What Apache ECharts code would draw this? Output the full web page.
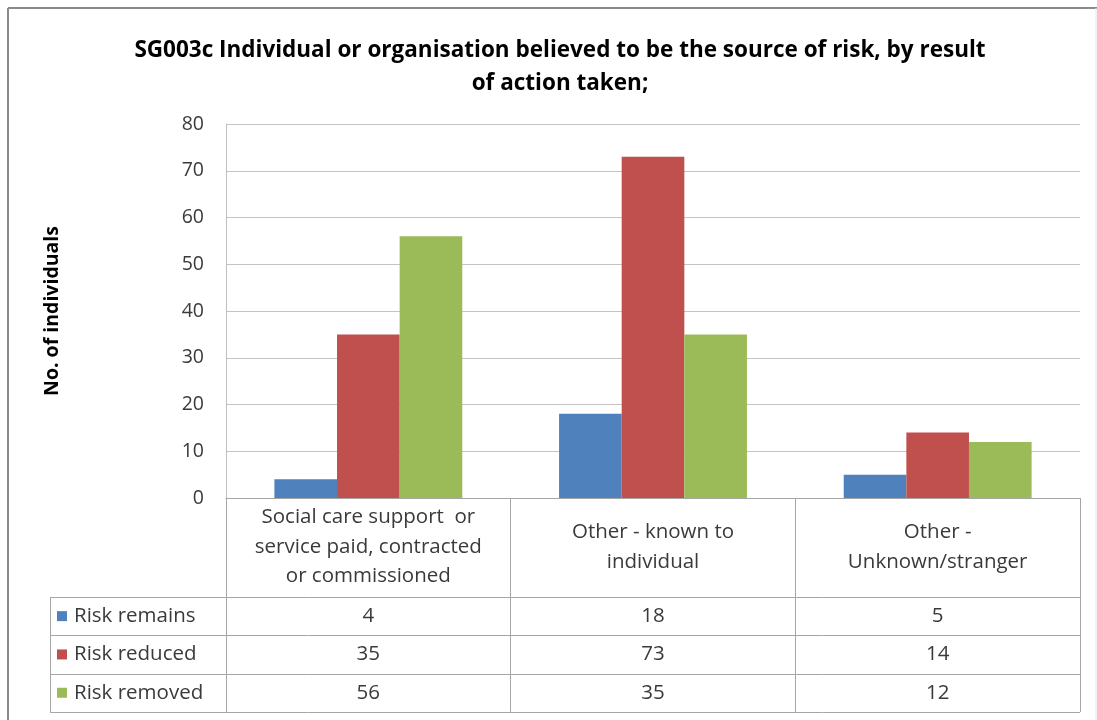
<!DOCTYPE html>
<html><head><meta charset="utf-8">
<script src="https://cdn.jsdelivr.net/npm/echarts@6/dist/echarts.min.js"></script>
<style>html,body{margin:0;padding:0;background:#fff}#c{width:1097px;height:720px}</style>
</head><body><div id="c"></div>
<script>
const titleText = "SG003c Individual or organisation believed to be the source of risk, by result\nof action taken;";
const yAxisName = "No. of individuals";
const categories = ["Social care support  or\nservice paid, contracted\nor commissioned", "Other - known to\nindividual", "Other -\nUnknown/stranger"];
const seriesNames = ["Risk remains", "Risk reduced", "Risk removed"];
const riskRemains = [4, 18, 5];
const riskReduced = [35, 73, 14];
const riskRemoved = [56, 35, 12];
const colors = ["#4F81BD", "#C0504D", "#9BBB59"];
const yTicks = {min: 0, max: 80, interval: 10};

const FONT = "Open Sans";
const TXT = "#3a3a3a";
const chart = echarts.init(document.getElementById('c'), null, {renderer: 'canvas'});
const allSeries = [riskRemains, riskReduced, riskRemoved];

const gridL = 226, gridR = 17, gridT = 124, gridB = 222;
const catRowH = 99, rowH = 38.3, tableLeft = 50;

chart.setOption({
  animation: false,
  backgroundColor: '#fff',
  title: {
    text: titleText, left: 555, top: 29, textAlign: 'center',
    textStyle: {fontFamily: FONT, fontSize: 22.5, fontWeight: 'bold', color: '#000', lineHeight: 33}
  },
  grid: {left: gridL, right: gridR, top: gridT, bottom: gridB},
  xAxis: {
    type: 'category', data: categories,
    axisLine: {lineStyle: {color: '#a6a6a6', width: 1}},
    axisTick: {show: true, length: catRowH + rowH * 3, lineStyle: {color: '#a6a6a6'}},
    axisLabel: {fontFamily: FONT, fontSize: 20.5, color: TXT, lineHeight: 29.5, verticalAlign: 'middle', margin: 49, interval: 0}
  },
  yAxis: {
    type: 'value', min: yTicks.min, max: yTicks.max, interval: yTicks.interval,
    name: yAxisName, nameLocation: 'middle', nameGap: 164, nameRotate: 90,
    nameTextStyle: {fontFamily: FONT, fontSize: 19.5, fontWeight: 'bold', color: '#000'},
    axisLine: {show: true, lineStyle: {color: '#bfbfbf'}},
    axisTick: {show: false},
    axisLabel: {fontFamily: FONT, fontSize: 19.5, color: TXT, margin: 22},
    splitLine: {lineStyle: {color: '#c4c4c4', width: 1}}
  },
  series: allSeries.map((d, i) => ({
    type: 'bar', name: seriesNames[i], data: d,
    itemStyle: {color: colors[i]},
    barGap: '0%', barCategoryGap: '34%'
  }))
});

function drawTable() {
  const y0 = chart.convertToPixel({yAxisIndex: 0}, 0);
  const xRight = 1097 - gridR;
  const topRows = y0 + catRowH;
  const els = [];
  els.push({type: 'line', shape: {x1: 8, y1: 8, x2: 1097, y2: 8}, style: {stroke: '#8a8a8a', lineWidth: 2}, silent: true});
  els.push({type: 'line', shape: {x1: 8, y1: 8, x2: 8, y2: 720}, style: {stroke: '#8a8a8a', lineWidth: 2}, silent: true});
  els.push({type: 'line', shape: {x1: 1096, y1: 8, x2: 1096, y2: 720}, style: {stroke: '#e6e6e6', lineWidth: 1}, silent: true});
  for (let r = 0; r <= 3; r++) {
    const y = Math.round(topRows + rowH * r) + 0.5;
    els.push({type: 'line', shape: {x1: tableLeft, y1: y, x2: xRight, y2: y}, style: {stroke: '#a6a6a6', lineWidth: 1}, silent: true});
  }
  els.push({type: 'line', shape: {x1: tableLeft + 0.5, y1: topRows, x2: tableLeft + 0.5, y2: topRows + rowH * 3}, style: {stroke: '#a6a6a6', lineWidth: 1}, silent: true});
  for (let s = 0; s < seriesNames.length; s++) {
    const cy = topRows + rowH * s + rowH / 2;
    els.push({type: 'rect', shape: {x: 57, y: cy - 5, width: 10, height: 10}, style: {fill: colors[s]}, silent: true});
    els.push({type: 'text', x: 74, y: cy, style: {text: seriesNames[s], fontFamily: FONT, fontSize: 20.5, fill: TXT, verticalAlign: 'middle', align: 'left'}, silent: true});
    for (let c = 0; c < categories.length; c++) {
      const cx = chart.convertToPixel({xAxisIndex: 0}, c);
      els.push({type: 'text', x: cx, y: cy, style: {text: String(allSeries[s][c]), fontFamily: FONT, fontSize: 20.5, fill: TXT, verticalAlign: 'middle', align: 'center'}, silent: true});
    }
  }
  chart.setOption({graphic: {elements: els}});
}
drawTable();
</script></body></html>
